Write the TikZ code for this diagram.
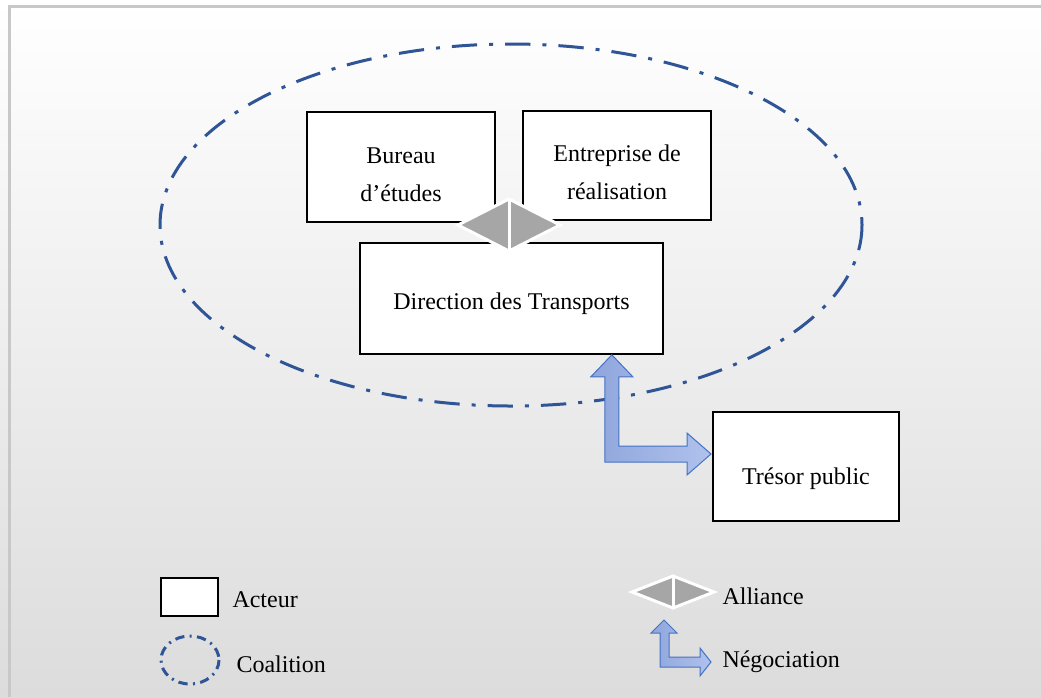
\documentclass[tikz,border=0pt]{standalone}
\usepackage{fontspec}
\setmainfont{Liberation Serif}
\usetikzlibrary{calc}

\definecolor{coalblue}{RGB}{47,85,151}
\definecolor{negoline}{RGB}{68,114,196}
\definecolor{negodark}{RGB}{143,166,220}
\definecolor{negolight}{RGB}{176,193,236}
\definecolor{allygray}{RGB}{166,166,166}
\definecolor{framegray}{RGB}{200,200,200}

\tikzset{every picture/.style={line width=0.75pt}}
\tikzset{
  actor/.style={draw=black, fill=white, line width=1.5pt, inner sep=0pt},
  actortext/.style={align=center, inner sep=0pt, font=\fontsize{18}{28.5}\selectfont},
  legendtext/.style={anchor=west, inner sep=0.75pt, font=\fontsize{18}{21}\selectfont},
  coalition/.style={draw=coalblue, line width=2.25pt, dash pattern=on 19pt off 9pt on 3pt off 9pt},
  alliance/.style={fill=allygray, draw=white, line width=2.25pt, line join=miter},
  negotiation/.style={draw=negoline, line width=0.75pt, left color=negodark, right color=negolight}
}

\begin{document}
\begin{tikzpicture}[x=0.75pt,y=0.75pt,yscale=-1,xscale=1]

% background and frame
\shade[top color=white, bottom color={rgb,255:red,220;green,220;blue,220}] (0,0) rectangle (1041,697);
\useasboundingbox (0,0) rectangle (1041,697);
\draw[framegray, line width=2.25pt] (9,697) -- (9,6) -- (1041,6);

% coalition
\draw[coalition] (511,225) ellipse [x radius=351, y radius=181];

% actors
\node[actor, minimum width=141pt, minimum height=82.5pt,
  label={[actortext, yshift=-6pt]center:{Bureau\\d’études}}] (bureau) at (401,167) {};
\node[actor, minimum width=141pt, minimum height=81.75pt,
  label={[actortext, yshift=-5.25pt]center:{Entreprise de\\réalisation}}] (entreprise) at (617,165.5) {};
\node[actor, minimum width=227pt, minimum height=83pt,
  label={[actortext, yshift=-4pt]center:{Direction des Transports}}] (direction) at (511.5,298.5) {};
\node[actor, minimum width=139.5pt, minimum height=81.75pt,
  label={[actortext, yshift=-9pt]center:{Trésor public}}] (tresor) at (806,466.5) {};

% alliance between the two firms
\coordinate (ally) at ($(bureau.south east)!0.5!(entreprise.south west)+(0,3)$);
\draw[alliance] (ally) +(-51,0) -- +(0,-26) -- +(51,0) -- +(0,26) -- cycle;
\draw[white, line width=2.25pt] (ally) +(0,-26) -- +(0,26);

% negotiation with the treasury
\coordinate (nUp) at ($(direction.south east)+(-52,0)$);
\coordinate (nRight) at ($(tresor.north west)+(-1,43)$);
\draw[negotiation] (nUp) -- ++(21,22) -- ++(-14,0) |- ($(nRight)+(-24,-8)$) -- ++(0,-13)
  -- (nRight) -- ++(-24,21) -- ++(0,-13) -| ($(nUp)+(-7,22)$) -- ++(-14,0) -- cycle;

% legend
\node[actor, minimum width=43pt, minimum height=29pt] (legactor) at (189.5,597) {};
\node[legendtext] (tactor) at (231,600) {Acteur};

\coordinate (legcoal) at (190,660);
\draw[coalblue, line width=2.25pt, dash pattern=on 7pt off 4pt on 1.5pt off 4pt] (legcoal) ellipse [x radius=29, y radius=24];
\node[legendtext] (tcoal) at (235,664) {Coalition};

\coordinate (legally) at (673,592);
\draw[alliance] (legally) +(-41,0) -- +(0,-16) -- +(41,0) -- +(0,16) -- cycle;
\draw[white, line width=2.25pt] (legally) +(0,-16) -- +(0,16);
\node[legendtext] (tally) at (721,596) {Alliance};

\coordinate (lnUp) at (664,620);
\coordinate (lnRight) at (711,662);
\draw[negotiation] (lnUp) -- ++(13,13) -- ++(-8,0) |- ($(lnRight)+(-11,-5)$) -- ++(0,-9)
  -- (lnRight) -- ++(-11,14) -- ++(0,-9) -| ($(lnUp)+(-4,13)$) -- ++(-9,0) -- cycle;
\node[legendtext] (tnego) at (721,662) {Négociation};

\end{tikzpicture}
\end{document}
